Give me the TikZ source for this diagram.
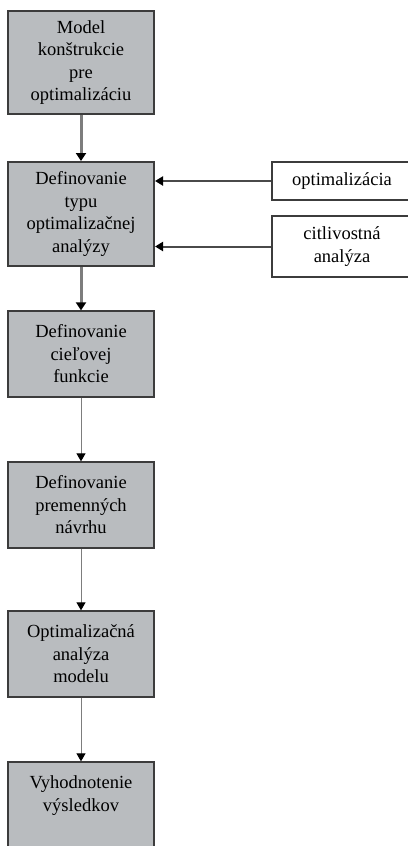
\documentclass[tikz,border=0pt]{standalone}
\usepackage{fontspec}
\setmainfont{Liberation Serif}
\usetikzlibrary{arrows.meta}
\definecolor{boxgray}{RGB}{185,188,191}
\definecolor{edgegray}{RGB}{60,60,60}
\definecolor{linegray}{RGB}{125,125,125}
\tikzset{
  flowbox/.style={draw=edgegray, line width=1.3pt, fill=boxgray, align=center,
    minimum width=146pt, text width=140pt, inner sep=0pt,
    font=\fontsize{18.5pt}{22.5pt}\selectfont},
  sidebox/.style={draw=edgegray, line width=1.1pt, fill=white, align=center,
    minimum width=140pt, text width=130pt, inner sep=0pt,
    font=\fontsize{18.5pt}{22.5pt}\selectfont},
  thickarrow/.style={draw=linegray, line width=3pt,
    -{Triangle[width=10pt,length=8pt,color=black]}},
  thinarrow/.style={draw=linegray, line width=1pt,
    -{Triangle[width=9pt,length=8pt,color=black]}},
  sidearrow/.style={draw=edgegray!80!gray, line width=2pt,
    -{Triangle[width=9pt,length=8pt,color=black]}}
}
\begin{document}
\begin{tikzpicture}[x=1pt,y=-1pt]
\useasboundingbox (0,0) rectangle (407,846);
\node[flowbox, minimum height=103pt] (b1) at (81,62.5) {Model\\konštrukcie\\pre\\optimalizáciu};
\node[flowbox, minimum height=104pt, line width=2pt] (b2) at (81,214) {Definovanie\\typu\\optimalizačnej\\analýzy};
\node[flowbox, minimum height=86pt] (b3) at (81,354) {Definovanie\\cieľovej\\funkcie};
\node[flowbox, minimum height=86pt] (b4) at (81,505) {Definovanie\\premenných\\návrhu};
\node[flowbox, minimum height=86pt] (b5) at (81,654) {Optimalizačná\\analýza\\modelu};
\node[flowbox, minimum height=86pt] (b6) at (81,805) {Vyhodnotenie\\výsledkov\\\mbox{}};
\node[sidebox, minimum height=38pt] (opt) at (342,181) {optimalizácia};
\node[sidebox, minimum height=61pt] (cit) at (342,246.5) {citlivostná\\analýza};
\draw[thickarrow] (b1.south) -- (b2.north);
\draw[thickarrow] (b2.south) -- (b3.north);
\draw[thinarrow] (b3.south) -- (b4.north);
\draw[thinarrow] (b4.south) -- (b5.north);
\draw[thinarrow] (b5.south) -- (b6.north);
\draw[sidearrow] (opt.west) -- (opt.west -| b2.east);
\draw[sidearrow] (cit.west) -- (cit.west -| b2.east);
\end{tikzpicture}
\end{document}
